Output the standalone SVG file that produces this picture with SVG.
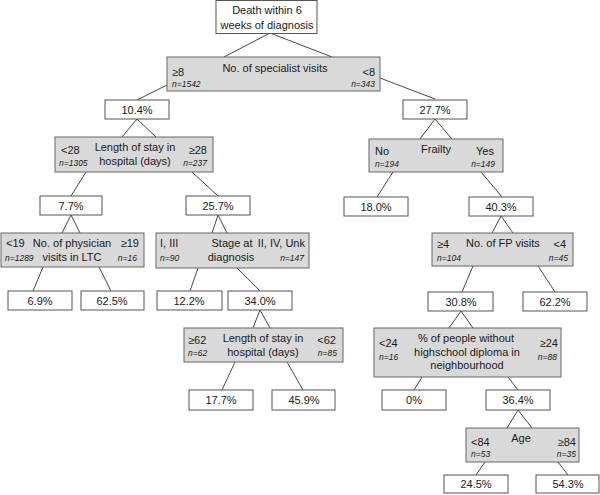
<svg xmlns="http://www.w3.org/2000/svg" width="600" height="495" viewBox="0 0 600 495">
<style>
.bg{fill:#ffffff}
.leaf{fill:#ffffff;stroke:#555555;stroke-width:1}
.split{fill:#d9d9d9;stroke:#666666;stroke-width:1}
.c line{stroke:#333333;stroke-width:0.9}
text{font-family:"Liberation Sans",Arial,sans-serif;font-size:11px;fill:#1a1a1a}
.m{text-anchor:middle}
.e{text-anchor:end}
.n{font-size:8.5px;font-style:italic}
</style>
<rect class="bg" x="0" y="0" width="600" height="495"/>
<g id="connectors" class="c">
<line x1="270" y1="33" x2="224" y2="57"/>
<line x1="270" y1="33" x2="332" y2="57"/>
<line x1="167" y1="85" x2="137" y2="100"/>
<line x1="380" y1="78" x2="435" y2="99"/>
<line x1="137" y1="119" x2="122" y2="137"/>
<line x1="137" y1="119" x2="156" y2="137"/>
<line x1="86" y1="172" x2="71" y2="196"/>
<line x1="192" y1="172" x2="218" y2="196"/>
<line x1="71" y1="215" x2="62" y2="233"/>
<line x1="71" y1="215" x2="80" y2="233"/>
<line x1="218" y1="215" x2="212" y2="233"/>
<line x1="218" y1="215" x2="227" y2="233"/>
<line x1="43" y1="267" x2="33" y2="291"/>
<line x1="99" y1="267" x2="111" y2="291"/>
<line x1="198" y1="268" x2="190" y2="291"/>
<line x1="237" y1="268" x2="260" y2="291"/>
<line x1="260" y1="310" x2="253" y2="328"/>
<line x1="260" y1="310" x2="270" y2="328"/>
<line x1="235" y1="362" x2="222" y2="390"/>
<line x1="287" y1="362" x2="303" y2="390"/>
<line x1="435" y1="119" x2="420" y2="139"/>
<line x1="435" y1="119" x2="452" y2="139"/>
<line x1="393" y1="172" x2="377" y2="197"/>
<line x1="481" y1="172" x2="502" y2="197"/>
<line x1="501" y1="216" x2="492" y2="233"/>
<line x1="501" y1="216" x2="513" y2="233"/>
<line x1="473" y1="266" x2="462" y2="292"/>
<line x1="538" y1="266" x2="555" y2="292"/>
<line x1="461" y1="311" x2="449" y2="328"/>
<line x1="461" y1="311" x2="473" y2="328"/>
<line x1="422" y1="377" x2="414" y2="390"/>
<line x1="508" y1="377" x2="518" y2="390"/>
<line x1="518" y1="410" x2="507" y2="428"/>
<line x1="518" y1="410" x2="532" y2="428"/>
<line x1="485" y1="462" x2="476" y2="475"/>
<line x1="558" y1="462" x2="568" y2="475"/>
</g>
<g id="root">
<rect class="leaf" x="216" y="0.5" width="101" height="33"/>
<text class="m" x="267" y="14">Death within 6</text>
<text class="m" x="267" y="29">weeks of diagnosis</text>
</g>
<g id="specialist">
<rect class="split" x="167" y="57" width="213" height="34"/>
<text class="m" x="275" y="72">No. of specialist visits</text>
<text x="172" y="76">≥8</text>
<text class="n" x="172" y="87">n=1542</text>
<text class="e" x="375" y="76">&lt;8</text>
<text class="n e" x="375" y="87">n=343</text>
</g>
<g id="p104">
<rect class="leaf" x="105" y="100" width="64" height="19"/>
<text class="m" x="137" y="114">10.4%</text>
</g>
<g id="p277">
<rect class="leaf" x="403" y="100" width="64" height="19"/>
<text class="m" x="435" y="114">27.7%</text>
</g>
<g id="stay1">
<rect class="split" x="55" y="137" width="158" height="35"/>
<text class="m" x="135" y="151">Length of stay in</text>
<text class="m" x="135" y="165">hospital (days)</text>
<text x="61" y="154">&lt;28</text>
<text class="n" x="59" y="166">n=1305</text>
<text class="e" x="207" y="154">≥28</text>
<text class="n e" x="207" y="166">n=237</text>
</g>
<g id="frailty">
<rect class="split" x="369" y="139" width="134" height="33"/>
<text class="m" x="436" y="153">Frailty</text>
<text x="375" y="155">No</text>
<text class="n" x="375" y="167">n=194</text>
<text class="e" x="494" y="155">Yes</text>
<text class="n e" x="495" y="167">n=149</text>
</g>
<g id="p77">
<rect class="leaf" x="40" y="196" width="62" height="19"/>
<text class="m" x="71" y="210">7.7%</text>
</g>
<g id="p257">
<rect class="leaf" x="186" y="196" width="64" height="19"/>
<text class="m" x="218" y="210">25.7%</text>
</g>
<g id="p180">
<rect class="leaf" x="344" y="197" width="64" height="19"/>
<text class="m" x="376" y="211">18.0%</text>
</g>
<g id="p403">
<rect class="leaf" x="469" y="197" width="64" height="19"/>
<text class="m" x="501" y="211">40.3%</text>
</g>
<g id="physician">
<rect class="split" x="1" y="233" width="143" height="34"/>
<text class="m" x="72" y="247">No. of physician</text>
<text class="m" x="72" y="261">visits in LTC</text>
<text x="6" y="247">&lt;19</text>
<text class="n" x="5" y="261">n=1289</text>
<text class="e" x="139" y="247">≥19</text>
<text class="n e" x="137" y="261">n=16</text>
</g>
<g id="stage">
<rect class="split" x="156" y="233" width="153" height="35"/>
<text class="m" x="232" y="247">Stage at</text>
<text class="m" x="231" y="261">diagnosis</text>
<text x="160" y="247">I, III</text>
<text class="n" x="160" y="261">n=90</text>
<text class="e" x="305" y="247">II, IV, Unk</text>
<text class="n e" x="304" y="261">n=147</text>
</g>
<g id="fp">
<rect class="split" x="432" y="233" width="141" height="33"/>
<text class="m" x="503" y="247">No. of FP visits</text>
<text x="437" y="248">≥4</text>
<text class="n" x="437" y="261">n=104</text>
<text class="e" x="566" y="248">&lt;4</text>
<text class="n e" x="568" y="261">n=45</text>
</g>
<g id="p69">
<rect class="leaf" x="8" y="291" width="64" height="19"/>
<text class="m" x="40" y="305">6.9%</text>
</g>
<g id="p625">
<rect class="leaf" x="81" y="291" width="63" height="19"/>
<text class="m" x="112" y="305">62.5%</text>
</g>
<g id="p122">
<rect class="leaf" x="157" y="291" width="65" height="19"/>
<text class="m" x="189" y="305">12.2%</text>
</g>
<g id="p340">
<rect class="leaf" x="228" y="291" width="64" height="19"/>
<text class="m" x="260" y="305">34.0%</text>
</g>
<g id="p308">
<rect class="leaf" x="428" y="292" width="65" height="19"/>
<text class="m" x="461" y="306">30.8%</text>
</g>
<g id="p622">
<rect class="leaf" x="523" y="292" width="64" height="19"/>
<text class="m" x="555" y="306">62.2%</text>
</g>
<g id="stay2">
<rect class="split" x="184" y="328" width="159" height="34"/>
<text class="m" x="263" y="342">Length of stay in</text>
<text class="m" x="263" y="356">hospital (days)</text>
<text x="188" y="344">≥62</text>
<text class="n" x="188" y="356">n=62</text>
<text class="e" x="336" y="344">&lt;62</text>
<text class="n e" x="337" y="356">n=85</text>
</g>
<g id="diploma">
<rect class="split" x="374" y="328" width="187" height="49"/>
<text class="m" x="466" y="342">% of people without</text>
<text class="m" x="467" y="356">highschool diploma in</text>
<text class="m" x="467" y="369">neighbourhood</text>
<text x="379" y="347">&lt;24</text>
<text class="n" x="379" y="360">n=16</text>
<text class="e" x="558" y="347">≥24</text>
<text class="n e" x="557" y="360">n=88</text>
</g>
<g id="p177">
<rect class="leaf" x="189" y="390" width="64" height="20"/>
<text class="m" x="221" y="404">17.7%</text>
</g>
<g id="p459">
<rect class="leaf" x="272" y="390" width="63" height="20"/>
<text class="m" x="304" y="404">45.9%</text>
</g>
<g id="p0">
<rect class="leaf" x="382" y="390" width="64" height="20"/>
<text class="m" x="414" y="404">0%</text>
</g>
<g id="p364">
<rect class="leaf" x="486" y="390" width="64" height="20"/>
<text class="m" x="518" y="404">36.4%</text>
</g>
<g id="age">
<rect class="split" x="466" y="428" width="113" height="34"/>
<text class="m" x="521" y="442">Age</text>
<text x="471" y="446">&lt;84</text>
<text class="n" x="471" y="457">n=53</text>
<text class="e" x="576" y="446">≥84</text>
<text class="n e" x="576" y="457">n=35</text>
</g>
<g id="p245">
<rect class="leaf" x="444" y="475" width="64" height="18"/>
<text class="m" x="476" y="488">24.5%</text>
</g>
<g id="p543">
<rect class="leaf" x="536" y="475" width="63" height="18"/>
<text class="m" x="568" y="488">54.3%</text>
</g>
</svg>
